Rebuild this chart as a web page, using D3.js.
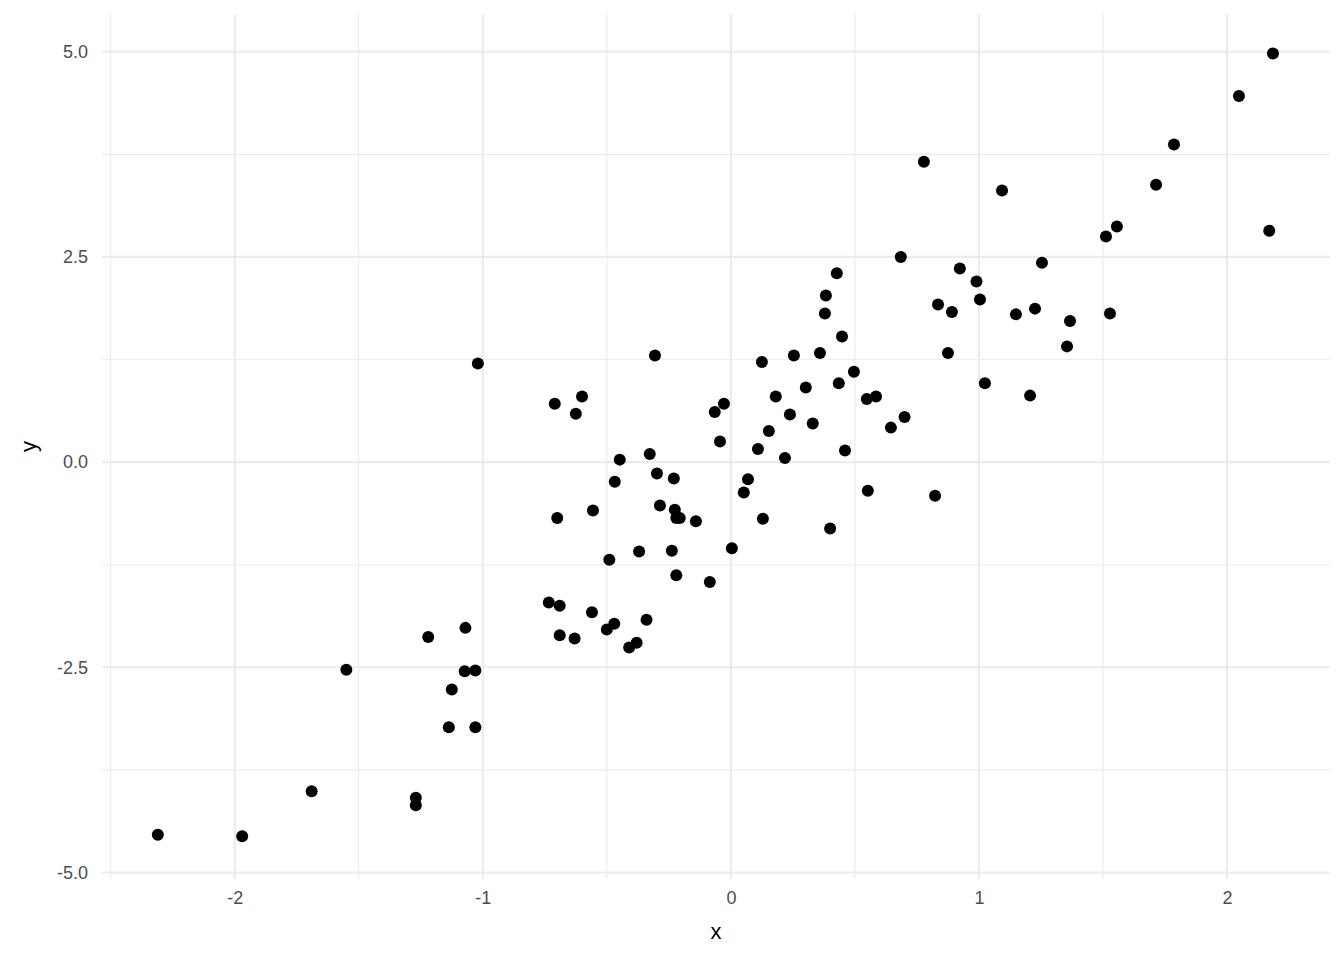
<!DOCTYPE html>
<html>
<head>
<meta charset="utf-8">
<script src="https://cdn.jsdelivr.net/npm/d3@7"></script>
<style>
  html, body { margin: 0; padding: 0; background: #ffffff; }
  svg { display: block; font-family: "Liberation Sans", Arial, sans-serif; }
</style>
</head>
<body>
<svg id="chart" width="1344" height="960"></svg>
<script>
const xValues = [
  -2.31, -1.97, -1.69, -1.55, -1.27, -1.27, -1.22, -1.125, -1.137, -1.07,
  -1.073, -1.03, -1.03, -1.02, -0.71, -0.70, -0.734, -0.69, -0.69, -0.63,
  -0.625, -0.60, -0.556, -0.56, -0.49, -0.50, -0.47, -0.468, -0.448, -0.41,
  -0.38, -0.37, -0.34, -0.327, -0.306, -0.298, -0.286, -0.238, -0.23, -0.226,
  -0.22, -0.206, -0.22, -0.141, -0.085, -0.065, -0.044, -0.028, 0.004, 0.052,
  0.069, 0.109, 0.125, 0.129, 0.153, 0.181, 0.218, 0.238, 0.254, 0.302,
  0.33, 0.359, 0.379, 0.383, 0.40, 0.427, 0.435, 0.448, 0.46, 0.496,
  0.552, 0.548, 0.585, 0.645, 0.685, 0.70, 0.778, 0.823, 0.835, 0.875,
  0.891, 0.923, 0.99, 1.004, 1.024, 1.093, 1.149, 1.206, 1.226, 1.254,
  1.355, 1.367, 1.512, 1.528, 1.556, 1.714, 1.786, 2.048, 2.17, 2.185
];
const yValues = [
  -4.54, -4.56, -4.01, -2.53, -4.09, -4.18, -2.13, -2.77, -3.23, -2.02,
  -2.55, -2.54, -3.23, 1.20, 0.71, -0.68, -1.71, -1.75, -2.11, -2.15,
  0.59, 0.80, -0.59, -1.83, -1.19, -2.04, -1.97, -0.24, 0.03, -2.26,
  -2.20, -1.09, -1.92, 0.10, 1.30, -0.14, -0.53, -1.08, -0.20, -0.58,
  -0.68, -0.68, -1.38, -0.72, -1.46, 0.61, 0.25, 0.71, -1.05, -0.37,
  -0.21, 0.16, 1.22, -0.69, 0.38, 0.80, 0.05, 0.58, 1.30, 0.91,
  0.47, 1.33, 1.81, 2.03, -0.81, 2.30, 0.96, 1.53, 0.14, 1.10,
  -0.35, 0.77, 0.80, 0.42, 2.50, 0.55, 3.66, -0.41, 1.92, 1.33,
  1.83, 2.36, 2.20, 1.98, 0.96, 3.31, 1.80, 0.81, 1.87, 2.43,
  1.41, 1.72, 2.75, 1.81, 2.87, 3.38, 3.87, 4.46, 2.82, 4.98
];
const xMajorTicks = [-2, -1, 0, 1, 2];
const xMinorTicks = [-2.5, -1.5, -0.5, 0.5, 1.5];
const yMajorTicks = [-5, -2.5, 0, 2.5, 5];
const yMinorTicks = [-3.75, -1.25, 1.25, 3.75];
const xTickLabels = ["-2", "-1", "0", "1", "2"];
const yTickLabels = ["-5.0", "-2.5", "0.0", "2.5", "5.0"];
const xTitle = "x";
const yTitle = "y";

const points = xValues.map((x, i) => ({ x: x, y: yValues[i] }));

const svg = d3.select("#chart");
const panel = { left: 102, right: 1330, top: 14, bottom: 879 };

const x = d3.scaleLinear().domain([-2.535, 2.415]).range([panel.left, panel.right]);
const y = d3.scaleLinear().domain([-5.08, 5.46]).range([panel.bottom, panel.top]);

const grid = svg.append("g");
grid.selectAll("line.xminor").data(xMinorTicks).enter().append("line")
  .attr("x1", d => x(d)).attr("x2", d => x(d))
  .attr("y1", panel.top).attr("y2", panel.bottom)
  .attr("stroke", "#ebebeb").attr("stroke-width", 1.1);
grid.selectAll("line.yminor").data(yMinorTicks).enter().append("line")
  .attr("y1", d => y(d)).attr("y2", d => y(d))
  .attr("x1", panel.left).attr("x2", panel.right)
  .attr("stroke", "#ebebeb").attr("stroke-width", 1.1);
grid.selectAll("line.xmajor").data(xMajorTicks).enter().append("line")
  .attr("x1", d => x(d)).attr("x2", d => x(d))
  .attr("y1", panel.top).attr("y2", panel.bottom)
  .attr("stroke", "#ebebeb").attr("stroke-width", 2.1);
grid.selectAll("line.ymajor").data(yMajorTicks).enter().append("line")
  .attr("y1", d => y(d)).attr("y2", d => y(d))
  .attr("x1", panel.left).attr("x2", panel.right)
  .attr("stroke", "#ebebeb").attr("stroke-width", 2.1);

const xAxis = d3.axisBottom(x).tickValues(xMajorTicks)
  .tickFormat((d, i) => xTickLabels[i]).tickSize(0).tickPadding(12);
const gx = svg.append("g").attr("transform", `translate(0,${panel.bottom})`).call(xAxis);
gx.select(".domain").remove();
gx.selectAll("text").attr("fill", "#4d4d4d").style("font-size", "18px")
  .style("font-family", '"Liberation Sans", Arial, sans-serif');

const yAxis = d3.axisLeft(y).tickValues(yMajorTicks)
  .tickFormat((d, i) => yTickLabels[i]).tickSize(0).tickPadding(14);
const gy = svg.append("g").attr("transform", `translate(${panel.left},0)`).call(yAxis);
gy.select(".domain").remove();
gy.selectAll("text").attr("fill", "#4d4d4d").style("font-size", "18px")
  .style("font-family", '"Liberation Sans", Arial, sans-serif');

svg.append("g").selectAll("circle").data(points).enter().append("circle")
  .attr("cx", d => x(d.x)).attr("cy", d => y(d.y))
  .attr("r", 6).attr("fill", "#000000");

svg.append("text").attr("x", (panel.left + panel.right) / 2).attr("y", 939)
  .attr("text-anchor", "middle").attr("fill", "#000").style("font-size", "22px")
  .text(xTitle);
svg.append("text")
  .attr("transform", `translate(36,${(panel.top + panel.bottom) / 2}) rotate(-90)`)
  .attr("text-anchor", "middle").attr("fill", "#000").style("font-size", "22px")
  .text(yTitle);
</script>
</body>
</html>
